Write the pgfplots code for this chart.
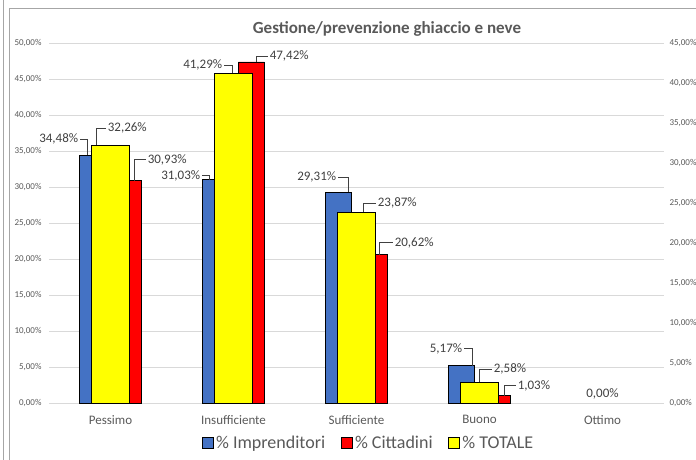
\documentclass[border=0pt]{standalone}
\usepackage{pgfplots}
\pgfplotsset{compat=1.18}
\usepackage{pgfplotstable}
\usepackage{fontspec}
\setmainfont{Carlito}
\definecolor{cblue}{HTML}{4472C4}
\definecolor{cred}{HTML}{FF0000}
\definecolor{cyellow}{HTML}{FFFF00}
\definecolor{gridc}{HTML}{D9D9D9}
\definecolor{txt}{HTML}{595959}
\definecolor{lbl}{HTML}{404040}
\definecolor{framec}{HTML}{A6A6A6}

\pgfplotstableread{
x imp cit tot
0 34.48 30.93 32.26
1 31.03 47.42 41.29
2 29.31 20.62 23.87
3 5.17 1.03 2.58
}\data

% #1 x, #2 value, #3 dx, #4 dy, #5 hx, #6 anchor, #7 text
\newcommand{\lead}[7]{%
  \draw[lbl, line width=0.7pt] ([xshift=#3pt]axis cs:#1,#2) -- ++(0pt,#4pt) -- ++(#5pt,0pt)
    node[anchor=#6, inner sep=1.5pt, text=lbl, font=\fontsize{13}{13}\selectfont]{#7};}

\begin{document}
\begin{tikzpicture}
\path[use as bounding box] (0,0) rectangle (696pt,459pt);
\draw[framec, line width=0.8pt] (3pt,-2pt) -- (3pt,461pt);
\draw[framec, line width=0.8pt] (9pt,-2pt) -- (9pt,451pt) -- (698pt,451pt);

\begin{axis}[
  at={(49pt,56pt)}, anchor=south west, scale only axis,
  width=615pt, height=359.6pt, clip=false,
  xmin=-0.5, xmax=4.5, ymin=0, ymax=50,
  ytick={0,5,...,50},
  yticklabels={{0,00\%},{5,00\%},{10,00\%},{15,00\%},{20,00\%},{25,00\%},{30,00\%},{35,00\%},{40,00\%},{45,00\%},{50,00\%}},
  xtick={0,1,2,3,4},
  xticklabels={Pessimo,Insufficiente,Sufficiente,Buono,Ottimo},
  ymajorgrids, grid style={gridc, line width=0.8pt},
  axis line style={draw=none}, major tick length=0pt,
  yticklabel style={font=\fontsize{9}{9}\selectfont, text=txt, xshift=-4pt},
  xticklabel style={font=\fontsize{13}{13}\selectfont, text=txt, yshift=-9pt},
  title={\bfseries Gestione/prevenzione ghiaccio e neve},
  title style={at={(axis description cs:0.5496,0.9928)}, anchor=south, text=txt, font=\fontsize{17}{17}\selectfont},
  legend style={at={(axis description cs:0.520,-0.111)}, anchor=center, draw=none, fill=none,
    font=\fontsize{18}{18}\selectfont, text=txt, inner sep=0pt,
    nodes={inner xsep=2.5pt},
    /tikz/every even column/.append style={column sep=13pt}},
  legend columns=3,
  bar width=0.211,
]
\addplot[ybar, fill=cblue, draw=black, line width=0.8pt, bar shift=-0.146, forget plot] table[x=x,y=imp]{\data};
\addplot[ybar, fill=cred, draw=black, line width=0.8pt, bar shift=0.146, forget plot] table[x=x,y=cit]{\data};
\addlegendimage{legend image code/.code={\draw[fill=cblue,draw=black,line width=0.8pt] (0pt,-5.5pt) rectangle (11pt,5.5pt);}}
\addlegendentry{\% Imprenditori}
\addlegendimage{legend image code/.code={\draw[fill=cred,draw=black,line width=0.8pt] (0pt,-5.5pt) rectangle (11pt,5.5pt);}}
\addlegendentry{\% Cittadini}
\addlegendimage{legend image code/.code={\draw[fill=cyellow,draw=black,line width=0.8pt] (0pt,-5.5pt) rectangle (11pt,5.5pt);}}
\addlegendentry{\% TOTALE}
% data labels, blue and red
\lead{-0.146}{34.48}{-5.5}{16}{-7}{east}{34,48\%}
\lead{0.146}{30.93}{5.5}{21}{12}{west}{30,93\%}
\lead{0.854}{31.03}{-6.5}{4}{-7}{east}{31,03\%}
\lead{1.146}{47.42}{4.5}{6}{12}{west}{47,42\%}
\lead{1.854}{29.31}{9.5}{15}{-10}{east}{29,31\%}
\lead{2.146}{20.62}{4.5}{12}{14}{west}{20,62\%}
\lead{2.854}{5.17}{10.5}{17}{-8}{east}{5,17\%}
\lead{3.146}{1.03}{6.5}{10}{12}{west}{1,03\%}
\node[text=lbl, font=\fontsize{13}{13}\selectfont] at ([yshift=9pt]axis cs:4,0) {0,00\%};
\end{axis}

\begin{axis}[
  at={(49pt,56pt)}, anchor=south west, scale only axis,
  width=615pt, height=359.6pt, clip=false,
  xmin=-0.5, xmax=4.5, ymin=0, ymax=45,
  axis x line=none, axis y line*=right, axis line style={draw=none},
  major tick length=0pt,
  ytick={0,5,...,45},
  yticklabels={{0,00\%},{5,00\%},{10,00\%},{15,00\%},{20,00\%},{25,00\%},{30,00\%},{35,00\%},{40,00\%},{45,00\%}},
  yticklabel style={font=\fontsize{9}{9}\selectfont, text=txt, xshift=2pt},
  bar width=0.312,
]
\addplot[ybar, fill=cyellow, draw=black, line width=0.8pt, bar shift=0] table[x=x,y=tot]{\data};
\lead{0}{32.26}{-14.5}{17}{10}{west}{32,26\%}
\lead{1}{41.29}{-1.5}{8}{-8}{east}{41,29\%}
\lead{2}{23.87}{6.5}{9}{13}{west}{23,87\%}
\lead{3}{2.58}{-0.5}{13}{13}{west}{2,58\%}
\end{axis}
\end{tikzpicture}
\end{document}
